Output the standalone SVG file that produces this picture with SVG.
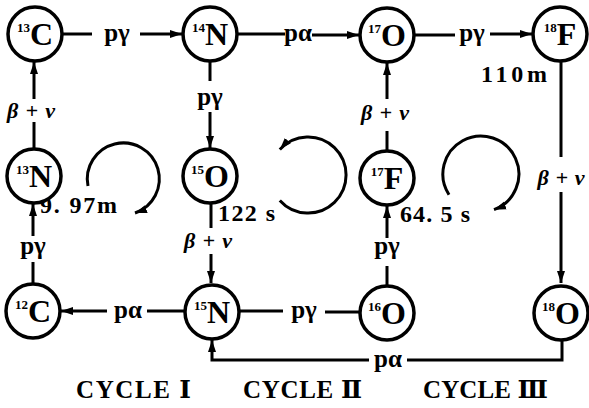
<svg xmlns="http://www.w3.org/2000/svg" width="589" height="408" viewBox="0 0 589 408">
<style>
.node circle{fill:#fff;stroke:#000;stroke-width:3.5}
.nuc{font-family:"Liberation Serif","DejaVu Serif",serif;font-weight:bold;font-size:32px;text-anchor:middle;fill:#000}
.sup{font-size:13px}
.edge line,.edge polyline,.edge path{stroke:#000;stroke-width:3;fill:none}
.lbl{font-family:"Liberation Serif","DejaVu Serif",serif;font-size:25px;font-weight:bold;text-anchor:middle;fill:#000}
.bn{font-family:"Liberation Serif","DejaVu Serif",serif;font-size:22px;font-weight:bold;font-style:italic;text-anchor:middle;fill:#000}
.tm{font-family:"Liberation Serif","DejaVu Serif",serif;font-size:24px;font-weight:bold;fill:#000}
.cyc{font-family:"Liberation Serif","DejaVu Serif",serif;font-size:25px;font-weight:bold;fill:#000}
</style>
<defs>
<marker id="ah" markerUnits="userSpaceOnUse" markerWidth="14" markerHeight="10" refX="12" refY="5" orient="auto"><path d="M0,1 L12,5 L0,9 z" fill="#000"/></marker>
</defs>
<rect width="589" height="408" fill="#fff"/>
<g class="edge" id="connectors">
<line x1="63" y1="34" x2="92" y2="34"/><line x1="140" y1="34" x2="182" y2="34" marker-end="url(#ah)"/>
<line x1="238" y1="34" x2="285" y2="34"/><line x1="312" y1="35" x2="359" y2="35" marker-end="url(#ah)"/>
<line x1="415" y1="35" x2="455" y2="35"/><line x1="490" y1="34" x2="532" y2="34" marker-end="url(#ah)"/>
<line x1="210" y1="62" x2="210" y2="81"/><line x1="210" y1="112" x2="210" y2="148" marker-end="url(#ah)"/>
<line x1="211" y1="204" x2="211" y2="228"/><line x1="211" y1="254" x2="211" y2="283" marker-end="url(#ah)"/>
<line x1="34" y1="148" x2="34" y2="122"/><line x1="34" y1="99" x2="34" y2="62" marker-end="url(#ah)"/>
<line x1="33" y1="283" x2="33" y2="262"/><line x1="33" y1="236" x2="33" y2="204" marker-end="url(#ah)"/>
<line x1="387" y1="285" x2="387" y2="266"/><line x1="387" y1="238" x2="387" y2="206" marker-end="url(#ah)"/>
<line x1="387" y1="150" x2="387" y2="131"/><line x1="387" y1="99" x2="387" y2="63" marker-end="url(#ah)"/>
<line x1="561" y1="62" x2="561" y2="157"/><line x1="561" y1="192" x2="561" y2="283" marker-end="url(#ah)"/>
<line x1="184" y1="311" x2="147" y2="311"/><line x1="107" y1="311" x2="61" y2="311" marker-end="url(#ah)"/>
<line x1="240" y1="311" x2="283" y2="311"/><line x1="325" y1="312" x2="360" y2="312"/>
<polyline points="562,340 562,360 407,360"/><polyline points="369,360 212,360 212,340" marker-end="url(#ah)"/>
<path d="M88,186 A36,36 0 1 1 135,213" marker-end="url(#ah)"/>
<path d="M279.8,200.4 A38,38 0 1 0 279.8,149.6" marker-end="url(#ah)"/>
<path d="M449,194.7 A38,38 0 1 1 494,209.7" marker-end="url(#ah)"/>
</g>
<g id="edge-labels">
<text class="lbl" x="117" y="41">pγ</text>
<text class="lbl" x="298" y="41">pα</text>
<text class="lbl" x="472" y="41">pγ</text>
<text class="lbl" x="210" y="105">pγ</text>
<text class="lbl" x="33" y="254">pγ</text>
<text class="lbl" x="387" y="254">pγ</text>
<text class="lbl" x="128" y="318">pα</text>
<text class="lbl" x="304" y="318">pγ</text>
<text class="lbl" x="388" y="367">pα</text>
<text class="bn" x="31" y="118" textLength="48" lengthAdjust="spacing">β+ν</text>
<text class="bn" x="208" y="248" textLength="48" lengthAdjust="spacing">β+ν</text>
<text class="bn" x="385" y="120" textLength="48" lengthAdjust="spacing">β+ν</text>
<text class="bn" x="561" y="185" textLength="47" lengthAdjust="spacing">β+ν</text>
<text class="tm" x="481" y="82" textLength="66" lengthAdjust="spacing">110m</text>
<text class="tm" x="40" y="213" textLength="77" lengthAdjust="spacing">9. 97m</text>
<text class="tm" x="218" y="221" textLength="57" lengthAdjust="spacing">122 s</text>
<text class="tm" x="400" y="222" textLength="70" lengthAdjust="spacing">64. 5 s</text>
<text class="cyc" x="76" y="398" textLength="115" lengthAdjust="spacing">CYCLE Ⅰ</text>
<text class="cyc" x="243" y="398" textLength="119" lengthAdjust="spacing">CYCLE Ⅱ</text>
<text class="cyc" x="423" y="398" textLength="125" lengthAdjust="spacing">CYCLE Ⅲ</text>
</g>
<g class="node" id="n13C"><circle cx="35" cy="34" r="27"/><text class="nuc" x="35" y="45"><tspan class="sup" dy="-13">13</tspan><tspan dy="13">C</tspan></text></g>
<g class="node" id="n14N"><circle cx="210" cy="34" r="27"/><text class="nuc" x="210" y="45"><tspan class="sup" dy="-13">14</tspan><tspan dy="13">N</tspan></text></g>
<g class="node" id="n17O"><circle cx="387" cy="35" r="27"/><text class="nuc" x="387" y="46"><tspan class="sup" dy="-13">17</tspan><tspan dy="13">O</tspan></text></g>
<g class="node" id="n18F"><circle cx="560" cy="34" r="27"/><text class="nuc" x="560" y="45"><tspan class="sup" dy="-13">18</tspan><tspan dy="13">F</tspan></text></g>
<g class="node" id="n13N"><circle cx="34" cy="176" r="27"/><text class="nuc" x="34" y="187"><tspan class="sup" dy="-13">13</tspan><tspan dy="13">N</tspan></text></g>
<g class="node" id="n15O"><circle cx="210" cy="176" r="27"/><text class="nuc" x="210" y="187"><tspan class="sup" dy="-13">15</tspan><tspan dy="13">O</tspan></text></g>
<g class="node" id="n17F"><circle cx="387" cy="178" r="27"/><text class="nuc" x="387" y="189"><tspan class="sup" dy="-13">17</tspan><tspan dy="13">F</tspan></text></g>
<g class="node" id="n12C"><circle cx="33" cy="311" r="27"/><text class="nuc" x="33" y="322"><tspan class="sup" dy="-13">12</tspan><tspan dy="13">C</tspan></text></g>
<g class="node" id="n15N"><circle cx="212" cy="312" r="27"/><text class="nuc" x="212" y="323"><tspan class="sup" dy="-13">15</tspan><tspan dy="13">N</tspan></text></g>
<g class="node" id="n16O"><circle cx="387" cy="313" r="27"/><text class="nuc" x="387" y="324"><tspan class="sup" dy="-13">16</tspan><tspan dy="13">O</tspan></text></g>
<g class="node" id="n18O"><circle cx="561" cy="313" r="27"/><text class="nuc" x="561" y="324"><tspan class="sup" dy="-13">18</tspan><tspan dy="13">O</tspan></text></g>
</svg>
